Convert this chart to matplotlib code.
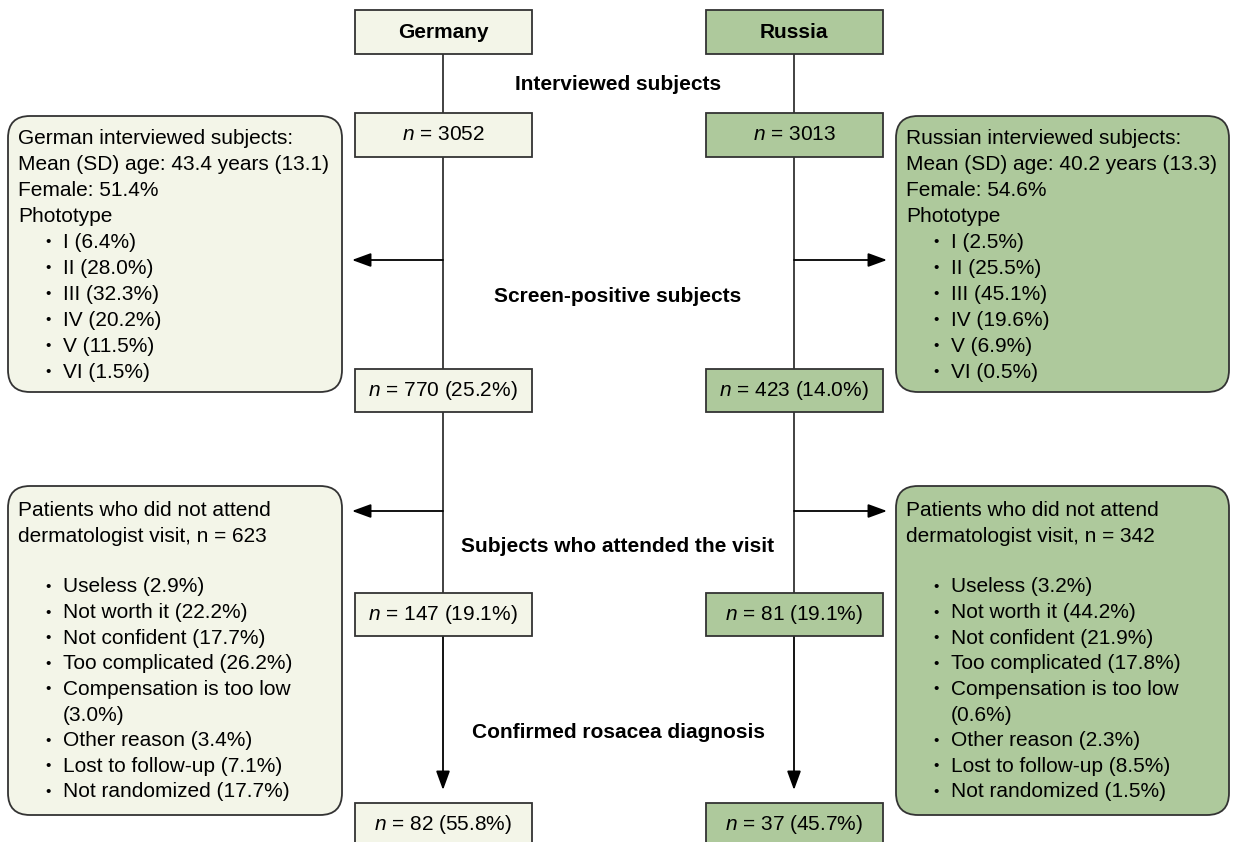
import matplotlib
matplotlib.use("Agg")
from matplotlib import pyplot as plt
from matplotlib.patches import Rectangle, FancyBboxPatch

plt.rcParams['font.family'] = ['Liberation Sans', 'DejaVu Sans']
plt.rcParams['mathtext.fontset'] = 'custom'
plt.rcParams['mathtext.rm'] = 'Liberation Sans'
plt.rcParams['mathtext.it'] = 'Liberation Sans:italic'

# data
countries = ["Germany", "Russia"]
stages = ["Interviewed subjects", "Screen-positive subjects",
          "Subjects who attended the visit", "Confirmed rosacea diagnosis"]
n_germany = [3052, 770, 147, 82]
n_russia = [3013, 423, 81, 37]
pct_germany = [None, 25.2, 19.1, 55.8]
pct_russia = [None, 14.0, 19.1, 45.7]

demo_germany = ["German interviewed subjects:",
                "Mean (SD) age: 43.4 years (13.1)",
                "Female: 51.4%", "Phototype"]
demo_russia = ["Russian interviewed subjects:",
               "Mean (SD) age: 40.2 years (13.3)",
               "Female: 54.6%", "Phototype"]
phototypes = ["I", "II", "III", "IV", "V", "VI"]
photo_germany = [6.4, 28.0, 32.3, 20.2, 11.5, 1.5]
photo_russia = [2.5, 25.5, 45.1, 19.6, 6.9, 0.5]

missed_germany = 623
missed_russia = 342
reasons = ["Useless", "Not worth it", "Not confident", "Too complicated",
           "Compensation is too low", "Other reason", "Lost to follow-up",
           "Not randomized"]
reason_germany = [2.9, 22.2, 17.7, 26.2, 3.0, 3.4, 7.1, 17.7]
reason_russia = [3.2, 44.2, 21.9, 17.8, 0.6, 2.3, 8.5, 1.5]

light = "#f3f5e8"
green = "#aec99c"
edge = "#333333"
fs = 15
head = "-|>,head_length=0.82,head_width=0.3"

fig = plt.figure(figsize=(12.37, 8.42), dpi=100)
ax = fig.add_axes([0, 0, 1, 1])
ax.set_xlim(0, 1237)
ax.set_ylim(842, 0)
ax.axis("off")

cols = [
    dict(name=countries[0], cx=443, fill=light, n=n_germany, pct=pct_germany,
         side_x=8, side_w=334, demo=demo_germany, photo=photo_germany,
         missed=missed_germany, reasons=reason_germany, arrow_to=352),
    dict(name=countries[1], cx=794, fill=green, n=n_russia, pct=pct_russia,
         side_x=896, side_w=333, demo=demo_russia, photo=photo_russia,
         missed=missed_russia, reasons=reason_russia, arrow_to=887),
]

box_w = 177
box_rows = [(113, 157), (369, 412), (593, 636), (803, 850)]
label_y = [84, 297, 547, 732]
label_x = 618


def small_box(cx, y0, y1, fill, text, bold=False):
    ax.add_patch(Rectangle((cx - box_w / 2, y0), box_w, y1 - y0,
                           facecolor=fill, edgecolor=edge, lw=1.3, zorder=3))
    yt = (y0 + y1) / 2 if y1 < 842 else y0 + 22
    ax.text(cx, yt, text, ha="center", va="center", fontsize=fs,
            fontweight="bold" if bold else "normal", zorder=4)


def bullet(x0, y, text):
    ax.text(x0 + 40, y, "•", ha="center", va="center", fontsize=11)
    ax.text(x0 + 55, y, text, ha="left", va="center", fontsize=fs)


for c in cols:
    cx = c["cx"]
    x0 = c["side_x"]
    # vertical trunk and final arrow
    ax.plot([cx, cx], [54, 636], color=edge, lw=1.3, zorder=1)
    ax.annotate("", xy=(cx, 790), xytext=(cx, 636),
                arrowprops=dict(arrowstyle=head, mutation_scale=14,
                                color="black", lw=1.3, shrinkA=0, shrinkB=0))
    small_box(cx, 10, 54, c["fill"], c["name"], bold=True)
    for i, (y0, y1) in enumerate(box_rows):
        if c["pct"][i] is None:
            t = "$n$ = %d" % c["n"][i]
        else:
            t = "$n$ = %d (%.1f%%)" % (c["n"][i], c["pct"][i])
        small_box(cx, y0, y1, c["fill"], t)

    # side arrows
    for ya in (260, 511):
        ax.annotate("", xy=(c["arrow_to"], ya), xytext=(cx, ya),
                    arrowprops=dict(arrowstyle=head, mutation_scale=14,
                                    color="black", lw=1.3,
                                    shrinkA=0, shrinkB=0))

    # demographics box
    ax.add_patch(FancyBboxPatch((x0, 116), c["side_w"], 276,
                                boxstyle="round,pad=0,rounding_size=22",
                                facecolor=c["fill"], edgecolor=edge, lw=1.3))
    y = 138
    for line in c["demo"]:
        ax.text(x0 + 10, y, line, ha="left", va="center", fontsize=fs)
        y += 26
    for p, v in zip(phototypes, c["photo"]):
        bullet(x0, y, "%s (%.1f%%)" % (p, v))
        y += 26

    # reasons box
    ax.add_patch(FancyBboxPatch((x0, 486), c["side_w"], 329,
                                boxstyle="round,pad=0,rounding_size=22",
                                facecolor=c["fill"], edgecolor=edge, lw=1.3))
    ax.text(x0 + 10, 510, "Patients who did not attend", ha="left",
            va="center", fontsize=fs)
    ax.text(x0 + 10, 536, "dermatologist visit, n = %d" % c["missed"],
            ha="left", va="center", fontsize=fs)
    y = 587
    for r, v in zip(reasons, c["reasons"]):
        if r == "Compensation is too low":
            bullet(x0, y, r)
            y += 25.6
            ax.text(x0 + 55, y, "(%.1f%%)" % v, ha="left", va="center",
                    fontsize=fs)
        else:
            bullet(x0, y, "%s (%.1f%%)" % (r, v))
        y += 25.6

for s, yl in zip(stages, label_y):
    ax.text(label_x, yl, s, ha="center", va="center", fontsize=fs,
            fontweight="bold", zorder=5)

fig.savefig("out.png", dpi=100)
